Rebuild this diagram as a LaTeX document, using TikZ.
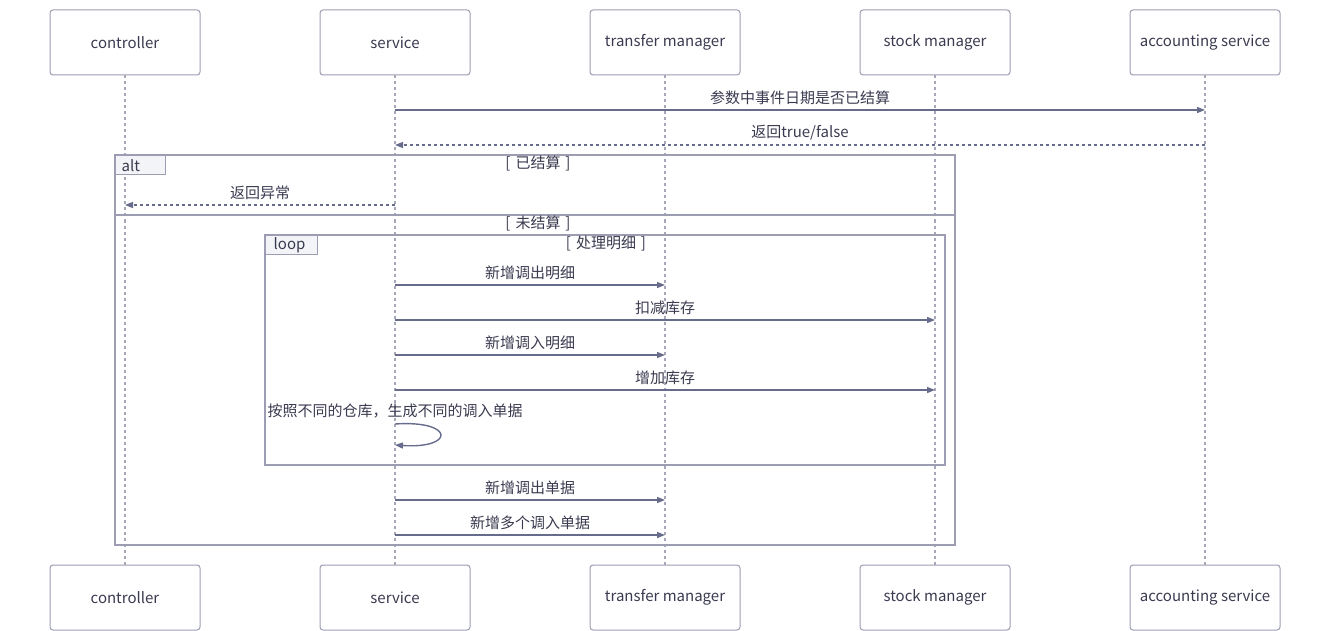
\documentclass[tikz,border=0pt]{standalone}
\usepackage{fontspec}
\setmainfont{Noto Sans CJK SC}
\usetikzlibrary{arrows.meta}

\definecolor{boxline}{HTML}{9C9DB3}
\definecolor{msgline}{HTML}{686C8C}
\definecolor{lifeline}{HTML}{A6A7B8}
\definecolor{tabfill}{HTML}{F2F4F8}
\definecolor{txt}{HTML}{3A3A50}

\tikzset{
  actor/.style={draw=boxline,line width=1pt,rounded corners=3pt,minimum width=150pt,
    minimum height=65pt,text=txt,font=\fontsize{15}{17}\selectfont},
  life/.style={lifeline,line width=1.5pt,dash pattern=on 3pt off 3pt},
  msg/.style={msgline,line width=1.4pt,-{Triangle[length=8pt,width=6pt]}},
  reply/.style={msg,dash pattern=on 3pt off 3pt},
  lbl/.style={text=txt,font=\fontsize{15}{17}\selectfont,above=1pt},
  guard/.style={text=txt,font=\fontsize{15}{17}\selectfont},
  frame/.style={draw=boxline,line width=1.3pt},
  tab/.style={draw=boxline,line width=1.3pt,fill=tabfill,anchor=north west,
    text=txt,font=\fontsize{15}{17}\selectfont,inner sep=0pt,minimum height=19pt,align=left}
}

\begin{document}
\begin{tikzpicture}[x=1pt,y=-1pt]
		\useasboundingbox (0,0) rectangle (1330,631);
		% participants
		\node[actor] (ctrlT) at (125,42.5) {controller};
		\node[actor] (svcT) at (395,42.5) {service};
		\node[actor] (trfT) at (665,42.5) {transfer manager};
		\node[actor] (stkT) at (935,42.5) {stock manager};
		\node[actor] (accT) at (1205,42.5) {accounting service};
		\node[actor] (ctrlB) at (125,597.5) {controller};
		\node[actor] (svcB) at (395,597.5) {service};
		\node[actor] (trfB) at (665,597.5) {transfer manager};
		\node[actor] (stkB) at (935,597.5) {stock manager};
		\node[actor] (accB) at (1205,597.5) {accounting service};
		\foreach \p in {ctrl,svc,trf,stk,acc}
		  \draw[life] (\p T.south) -- (\p B.north);
		% frames
		\draw[frame] (115,155) rectangle (955,545);
		\draw[frame] (115,215) -- (955,215);
		\node[tab,text width=50pt] (alt) at (115,155) {\hspace*{6pt}alt};
		\node[guard] (yes) at (538,163) {[\,\,已结算\,\,]};
		\node[guard] (no) at (538,223) {[\,\,未结算\,\,]};
		\draw[frame] (265,235) rectangle (945,465);
		\node[tab,text width=52pt] (loop) at (265,235) {\hspace*{8pt}loop};
		\node[guard] (each) at (606,243) {[\,\,处理明细\,\,]};
		% messages
		\draw[msg] (svcT |- 0,110) -- (accT |- 0,110) node[midway,lbl] {参数中事件日期是否已结算};
		\draw[reply] (accT |- 0,145) -- (svcT |- 0,145) node[midway,lbl] {返回true/false};
		\draw[reply] (svcT |- 0,205) -- (ctrlT |- 0,205) node[midway,lbl] {返回异常};
		\draw[msg] (svcT |- 0,285) -- (trfT |- 0,285) node[midway,lbl] {新增调出明细};
		\draw[msg] (svcT |- 0,320) -- (stkT |- 0,320) node[midway,lbl] {扣减库存};
		\draw[msg] (svcT |- 0,355) -- (trfT |- 0,355) node[midway,lbl] {新增调入明细};
		\draw[msg] (svcT |- 0,390) -- (stkT |- 0,390) node[midway,lbl] {增加库存};
		\node[lbl] (split) at (395,423) {按照不同的仓库，生成不同的调入单据};
		\draw[msg] (svcT |- 0,424) .. controls (455,420) and (455,449) .. (svcT |- 0,445);
		\draw[msg] (svcT |- 0,500) -- (trfT |- 0,500) node[midway,lbl] {新增调出单据};
		\draw[msg] (svcT |- 0,535) -- (trfT |- 0,535) node[midway,lbl] {新增多个调入单据};
		\end{tikzpicture}
\end{document}
